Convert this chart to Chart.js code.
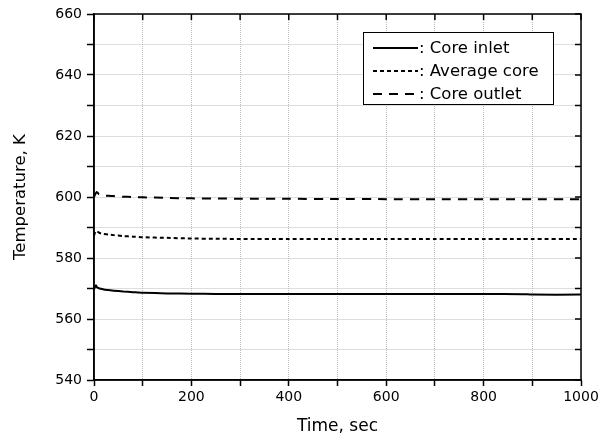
<!DOCTYPE html>
<html>
<head>
<meta charset="utf-8">
<script src="https://cdn.jsdelivr.net/npm/chart.js@4/dist/chart.umd.min.js"></script>
<style>
html,body{margin:0;padding:0;background:#fff;}
#wrap{width:599px;height:441px;position:relative;}
</style>
</head>
<body>
<div id="wrap"><canvas id="c" width="599" height="441"></canvas></div>
<script>
// ---- data ----
const timeSec = [0, 2, 4, 6, 10, 15, 20, 30, 40, 60, 80, 100, 150, 200, 250, 300, 400, 500, 600, 700, 800, 880, 900, 1000];
const coreInlet = [569.7, 570.5, 571.1, 570.4, 570.1, 569.9, 569.7, 569.5, 569.3, 569.0, 568.8, 568.6, 568.4, 568.3, 568.2, 568.2, 568.2, 568.2, 568.2, 568.2, 568.2, 568.15, 568.0, 568.0];
const averageCore = [587.3, 588.3, 588.9, 588.8, 588.3, 588.0, 587.9, 587.7, 587.5, 587.2, 587.0, 586.8, 586.6, 586.4, 586.3, 586.25, 586.2, 586.2, 586.2, 586.2, 586.2, 586.2, 586.2, 586.2];
const coreOutlet = [600.0, 600.7, 601.3, 601.6, 600.9, 600.6, 600.5, 600.4, 600.3, 600.1, 600.0, 599.9, 599.7, 599.55, 599.5, 599.45, 599.4, 599.35, 599.3, 599.3, 599.3, 599.3, 599.3, 599.3];
const seriesNames = [': Core inlet', ': Average core', ': Core outlet'];
const xTitle = 'Time, sec';
const yTitle = 'Temperature, K';

const FONT = "'DejaVu Sans', sans-serif";
const dashes = [[], [4, 3], [9, 7]];
const allSeries = [coreInlet, averageCore, coreOutlet];

const datasets = allSeries.map((s, i) => ({
  label: seriesNames[i],
  data: timeSec.map((t, k) => ({x: t, y: s[k]})),
  borderColor: '#000',
  borderWidth: 2,
  borderDash: dashes[i],
  pointRadius: 0,
  fill: false,
  tension: 0.2
}));

const framePlugin = {
  id: 'frame',
  afterDraw(chart) {
    const ctx = chart.ctx, a = chart.chartArea;
    const xs = chart.scales.x, ys = chart.scales.y;
    ctx.save();
    ctx.strokeStyle = '#000';
    ctx.lineWidth = 1.5;
    ctx.strokeRect(a.left, a.top, a.right - a.left, a.bottom - a.top);
    ctx.beginPath();
    for (let v = 0; v <= 1000; v += 100) {
      const px = xs.getPixelForValue(v);
      ctx.moveTo(px, a.top); ctx.lineTo(px, a.top + 6);
    }
    for (let v = 540; v <= 660; v += 10) {
      const py = ys.getPixelForValue(v);
      ctx.moveTo(a.right, py); ctx.lineTo(a.right - 6, py);
    }
    ctx.stroke();
    // legend
    const bx = 363, by = 32, bw = 190, bh = 72;
    ctx.fillStyle = '#fff';
    ctx.fillRect(bx, by, bw, bh);
    ctx.lineWidth = 1;
    ctx.strokeRect(bx + 0.5, by + 0.5, bw, bh);
    ctx.font = "16.5px " + FONT;
    ctx.textBaseline = 'middle';
    ctx.fillStyle = '#000';
    const rows = [48, 71, 94];
    for (let i = 0; i < 3; i++) {
      ctx.beginPath();
      ctx.lineWidth = 2;
      ctx.setLineDash(dashes[i]);
      ctx.moveTo(373, rows[i]); ctx.lineTo(418, rows[i]);
      ctx.stroke();
      ctx.setLineDash([]);
      ctx.fillText(seriesNames[i], 419, rows[i] + 1);
    }
    ctx.restore();
  }
};

new Chart(document.getElementById('c'), {
  type: 'line',
  data: {datasets},
  options: {
    responsive: false,
    animation: false,
    layout: {padding: {top: 14, right: 0, left: 0, bottom: 0}},
    plugins: {legend: {display: false}, tooltip: {enabled: false}},
    scales: {
      x: {
        type: 'linear', min: 0, max: 1000,
        afterFit(s) { s.height = 61; s.paddingLeft = 0; s.paddingRight = 0; },
        ticks: {
          stepSize: 100, autoSkip: false, maxRotation: 0, padding: 3,
          color: '#000', font: {family: FONT, size: 14},
          callback: v => (v % 200 === 0 ? String(v) : '')
        },
        grid: {color: '#bdbdbd', lineWidth: 1, tickColor: '#000', tickWidth: 1.5, tickLength: 6},
        border: {display: true, color: '#000', width: 1.5, dash: [1, 1]},
        title: {display: true, text: xTitle, color: '#000', font: {family: FONT, size: 17}, padding: {top: 0, bottom: 4}}
      },
      y: {
        type: 'linear', min: 540, max: 660,
        afterFit(s) { s.width = 94; s.paddingTop = 0; s.paddingBottom = 0; },
        ticks: {
          stepSize: 10, autoSkip: false, padding: 5,
          color: '#000', font: {family: FONT, size: 14},
          callback: v => (v % 20 === 0 ? String(v) : '')
        },
        grid: {color: '#bdbdbd', lineWidth: 1, tickColor: '#000', tickWidth: 1.5, tickLength: 7},
        border: {display: true, color: '#000', width: 1.5, dash: [1, 1]},
        title: {display: true, text: yTitle, color: '#000', font: {family: FONT, size: 16.5}, padding: {top: 11, bottom: 0}}
      },
      y2: {
        type: 'linear', position: 'right', min: 540, max: 660,
        afterFit(s) { s.width = 18; s.paddingTop = 0; s.paddingBottom = 0; },
        ticks: {display: false},
        grid: {display: false, drawTicks: false},
        border: {display: false}
      }
    }
  },
  plugins: [framePlugin]
});
</script>
</body>
</html>
